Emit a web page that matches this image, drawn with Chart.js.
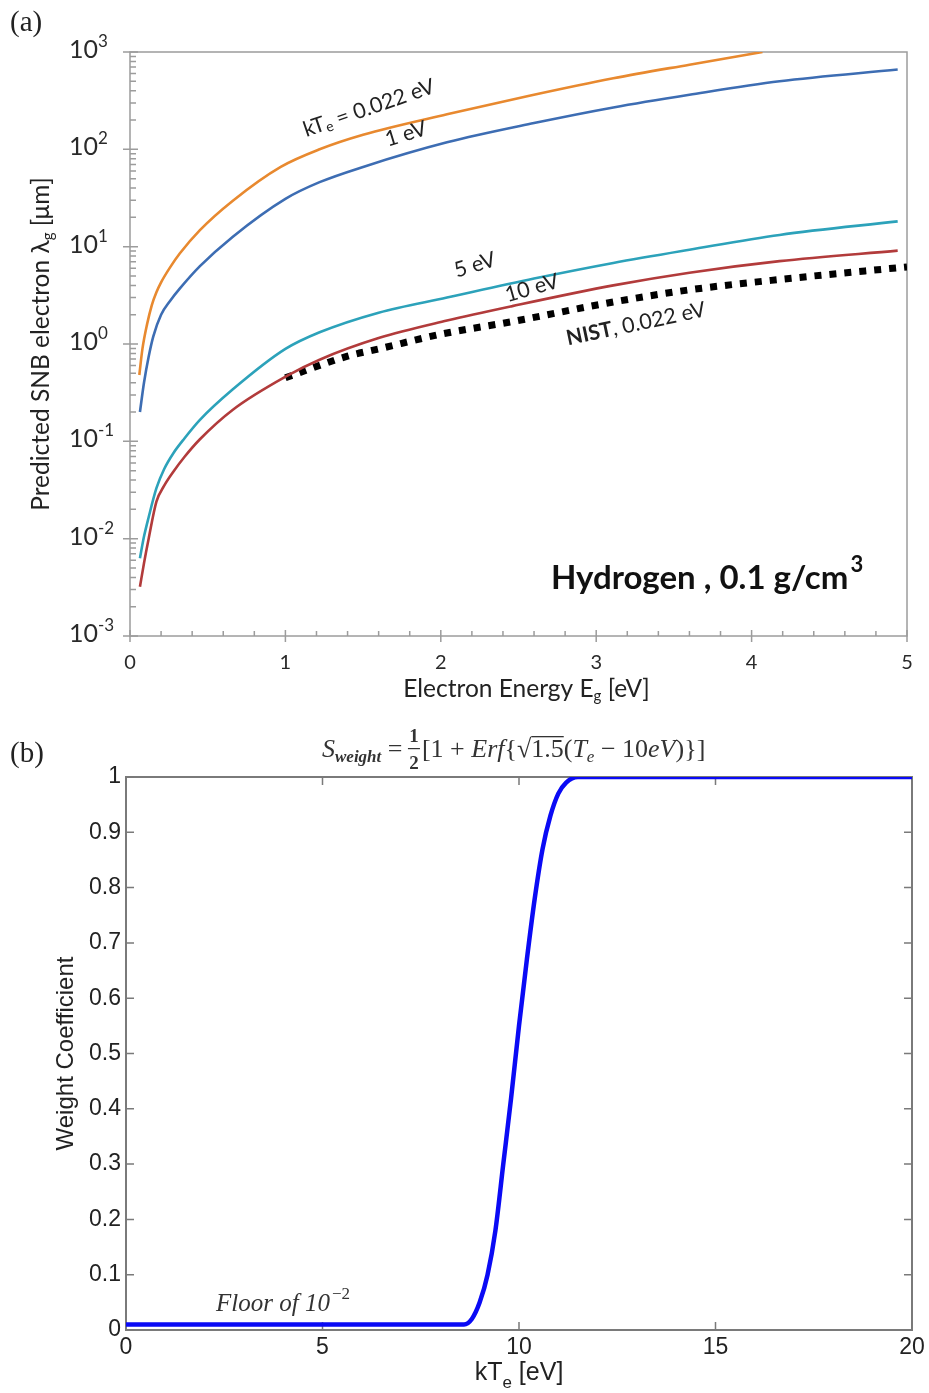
<!DOCTYPE html>
<html><head><meta charset="utf-8">
<script src="https://cdn.jsdelivr.net/npm/chart.js@4.4.0/dist/chart.umd.min.js"></script>
<style>
html,body{margin:0;padding:0;background:#fff;}
#wrap{position:relative;width:929px;height:1393px;background:#fff;overflow:hidden;}
canvas{position:absolute;left:0;}
</style></head><body>
<div id="wrap">
<canvas id="c1" width="929" height="710" style="top:0;width:929px;height:710px"></canvas>
<canvas id="c2" width="929" height="683" style="top:710px;width:929px;height:683px"></canvas>
</div>
<script>
// ---------- Panel (a): predicted SNB electron mean free path vs electron energy ----------
const e_kT0022 = [0.06, 0.08, 0.11, 0.14, 0.17, 0.2, 0.26, 0.32, 0.45, 0.66, 0.97, 1.22, 1.5, 2.04, 2.57, 3.11, 3.6, 4.07];
const lam_kT0022 = [0.48, 0.89, 1.6, 2.5, 3.4, 4.3, 6.2, 8.5, 14.8, 29.5, 66, 100, 141, 229, 355, 537, 741, 1000];

const e_kT1 = [0.064, 0.09, 0.12, 0.15, 0.2, 0.26, 0.32, 0.45, 0.66, 1.0, 1.22, 1.5, 2.04, 2.6, 3.11, 3.6, 4.18, 4.94];
const lam_kT1 = [0.2, 0.4, 0.74, 1.2, 2.0, 2.8, 3.7, 6.3, 12.6, 31, 46, 66, 118, 186, 269, 363, 500, 660];

const e_kT5 = [0.064, 0.09, 0.12, 0.17, 0.22, 0.28, 0.35, 0.45, 0.66, 1.0, 1.22, 1.6, 2.04, 2.6, 3.11, 3.6, 4.18, 4.94];
const lam_kT5 = [0.0063, 0.0105, 0.0166, 0.033, 0.052, 0.076, 0.107, 0.166, 0.34, 0.89, 1.32, 2.1, 3.0, 4.7, 6.8, 9.3, 13.2, 18.2];

const e_kT10 = [0.064, 0.09, 0.12, 0.17, 0.22, 0.28, 0.35, 0.45, 0.66, 1.01, 1.22, 1.6, 2.04, 2.46, 3.11, 3.6, 4.18, 4.94];
const lam_kT10 = [0.0032, 0.0056, 0.01, 0.024, 0.035, 0.049, 0.069, 0.105, 0.21, 0.47, 0.69, 1.15, 1.74, 2.45, 4.0, 5.4, 7.1, 9.1];

const e_nist = [1.0, 1.4, 1.6, 2.0, 2.46, 3.11, 3.6, 4.18, 5.0];
const lam_nist = [0.45, 0.75, 0.89, 1.26, 1.7, 2.7, 3.6, 4.6, 6.2];

const xTicksA = [0, 1, 2, 3, 4, 5];
const yExpA = [-3, -2, -1, 0, 1, 2, 3];

// ---------- Panel (b): weight coefficient vs kTe ----------
const kTe = [0, 8.6, 8.8, 9.0, 9.2, 9.4, 9.6, 9.8, 10.0, 10.2, 10.4, 10.6, 10.8, 11.0, 11.2, 11.5, 20];
const weight = [0.01, 0.01, 0.02, 0.05, 0.1, 0.18, 0.3, 0.42, 0.55, 0.67, 0.78, 0.87, 0.93, 0.97, 0.99, 1.0, 1.0];
const xTicksB = [0, 5, 10, 15, 20];

const SANS = 'Lato, "Open Sans", sans-serif';
const SERIF = '"Liberation Serif", "DejaVu Serif", serif';
const ARIAL = '"Liberation Sans", Arial, sans-serif';

function pts(xs, ys) { return xs.map((x, i) => ({ x: x, y: ys[i] })); }

function rich(ctx, parts, x, y, align) {
  let w = 0;
  parts.forEach(p => { ctx.font = p.f; p.w = ctx.measureText(p.t).width; w += p.w; });
  let cx = align === 'center' ? x - w / 2 : (align === 'right' ? x - w : x);
  ctx.textAlign = 'left';
  parts.forEach(p => { ctx.font = p.f; ctx.fillText(p.t, cx, y + (p.dy || 0)); cx += p.w; });
  return cx;
}

function rotLabel(ctx, parts, cx, cy, deg) {
  ctx.save();
  ctx.translate(cx, cy);
  ctx.rotate(deg * Math.PI / 180);
  ctx.textBaseline = 'middle';
  rich(ctx, parts, 0, 0, 'center');
  ctx.restore();
}

const decorA = {
  id: 'decorA',
  beforeDatasetsDraw(chart) {
    const { ctx, chartArea: a, scales: { x, y } } = chart;
    ctx.save();
    ctx.strokeStyle = '#9c9c9c';
    ctx.lineWidth = 1.5;
    ctx.strokeRect(a.left, a.top, a.right - a.left, a.bottom - a.top);
    ctx.beginPath();
    yExpA.forEach(k => {
      const py = y.getPixelForValue(Math.pow(10, k));
      ctx.moveTo(a.left - 7, py); ctx.lineTo(a.left + 8, py);
      if (k < 3) for (let m = 2; m <= 9; m++) {
        const q = y.getPixelForValue(m * Math.pow(10, k));
        ctx.moveTo(a.left, q); ctx.lineTo(a.left + 6, q);
      }
    });
    for (let i = 0; i <= 25; i++) {
      const px = x.getPixelForValue(i * 0.2);
      if (i % 5 === 0) { ctx.moveTo(px, a.bottom - 6); ctx.lineTo(px, a.bottom + 6); }
      else { ctx.moveTo(px, a.bottom - 5); ctx.lineTo(px, a.bottom); }
    }
    ctx.stroke();
    ctx.restore();
  },
  afterDraw(chart) {
    const { ctx, chartArea: a, scales: { x, y } } = chart;
    ctx.save();
    ctx.fillStyle = '#2a2a2a';
    ctx.textBaseline = 'alphabetic';
    // y tick labels 10^k
    yExpA.forEach(k => {
      const py = y.getPixelForValue(Math.pow(10, k));
      ctx.font = '25px ' + SANS;
      ctx.textAlign = 'left';
      ctx.fillText('10', 69, py + 6);
      const w = ctx.measureText('10').width;
      ctx.font = '17px ' + SANS;
      ctx.fillText(String(k), 69 + w, py - 5);
    });
    // axis titles
    ctx.fillStyle = '#222';
    ctx.save();
    ctx.translate(49, (a.top + a.bottom) / 2);
    ctx.rotate(-Math.PI / 2);
    rich(ctx, [
      { t: 'Predicted SNB electron λ', f: '24.5px ' + SANS },
      { t: 'g', f: '15px ' + SANS, dy: 4 },
      { t: ' [μm]', f: '24.5px ' + SANS }
    ], 0, 0, 'center');
    ctx.restore();
    rich(ctx, [
      { t: 'Electron Energy E', f: '24.5px ' + SANS },
      { t: 'g', f: '15px ' + SANS, dy: 4 },
      { t: ' [eV]', f: '24.5px ' + SANS }
    ], (a.left + a.right) / 2 + 8, 697, 'center');
    // curve labels
    const f21 = '21.5px ' + SANS;
    rotLabel(ctx, [{ t: 'kT', f: f21 }, { t: 'e', f: '14px ' + SANS, dy: 5 }, { t: ' = 0.022 eV', f: f21 }], 369, 108, -19);
    rotLabel(ctx, [{ t: '1 eV', f: f21 }], 406, 134, -17);
    rotLabel(ctx, [{ t: '5 eV', f: f21 }], 475, 265, -17);
    rotLabel(ctx, [{ t: '10 eV', f: f21 }], 532, 288, -16);
    rotLabel(ctx, [{ t: 'NIST', f: 'bold 21px ' + SANS }, { t: ', 0.022 eV', f: f21 }], 636, 324, -12);
    // material annotation
    ctx.fillStyle = '#111';
    const end = rich(ctx, [{ t: 'Hydrogen , 0.1 g/cm', f: 'bold 33px ' + SANS }], 551, 589, 'left');
    ctx.font = 'bold 22px ' + SANS;
    ctx.fillText('3', end + 2, 572);
    // panel letter
    ctx.font = '29px ' + SERIF;
    ctx.fillStyle = '#222';
    ctx.fillText('(a)', 10, 31);
    ctx.restore();
  }
};

const lineDs = (label, xs, ys, color) => ({
  label: label, data: pts(xs, ys), borderColor: color, backgroundColor: color,
  borderWidth: 2.6, pointRadius: 0, cubicInterpolationMode: 'monotone', fill: false
});

new Chart(document.getElementById('c1'), {
  type: 'line',
  data: {
    datasets: [
      lineDs('kTe = 0.022 eV', e_kT0022, lam_kT0022, '#E8892F'),
      lineDs('1 eV', e_kT1, lam_kT1, '#3D6DB3'),
      lineDs('5 eV', e_kT5, lam_kT5, '#2CA2BA'),
      lineDs('10 eV', e_kT10, lam_kT10, '#B23B3B'),
      {
        label: 'NIST, 0.022 eV', data: pts(e_nist, lam_nist), borderColor: '#000', borderWidth: 7,
        borderDash: [7, 8], borderCapStyle: 'butt', pointRadius: 0, cubicInterpolationMode: 'monotone', fill: false
      }
    ]
  },
  options: {
    responsive: false, animation: false, devicePixelRatio: 1,
    layout: { padding: { top: 52, right: 22, left: 0, bottom: 0 } },
    plugins: { legend: { display: false }, tooltip: { enabled: false } },
    scales: {
      x: {
        type: 'linear', min: 0, max: 5,
        afterBuildTicks(s) { s.ticks = xTicksA.map(v => ({ value: v })); },
        ticks: { font: { family: SANS, size: 20 }, color: '#2a2a2a', padding: 15, maxRotation: 0, autoSkip: false },
        grid: { display: false, drawTicks: false }, border: { display: false },
        afterFit(s) { s.height = 74; }
      },
      y: {
        type: 'logarithmic', min: 1e-3, max: 1e3,
        ticks: { display: false },
        grid: { display: false, drawTicks: false }, border: { display: false },
        afterFit(s) { s.width = 130; }
      }
    }
  },
  plugins: [decorA]
});

// ---------- Panel (b) ----------
const decorB = {
  id: 'decorB',
  beforeDatasetsDraw(chart) {
    const { ctx, chartArea: a, scales: { x, y } } = chart;
    ctx.save();
    ctx.strokeStyle = '#7a7a7a';
    ctx.lineWidth = 2;
    ctx.strokeRect(a.left, a.top, a.right - a.left, a.bottom - a.top);
    ctx.lineWidth = 1.5;
    ctx.beginPath();
    xTicksB.forEach(v => {
      const px = x.getPixelForValue(v);
      ctx.moveTo(px, a.bottom); ctx.lineTo(px, a.bottom - 8);
      ctx.moveTo(px, a.top); ctx.lineTo(px, a.top + 8);
    });
    for (let i = 0; i <= 10; i++) {
      const py = y.getPixelForValue(i / 10);
      ctx.moveTo(a.left, py); ctx.lineTo(a.left + 8, py);
      ctx.moveTo(a.right, py); ctx.lineTo(a.right - 8, py);
    }
    ctx.stroke();
    ctx.restore();
  },
  afterDraw(chart) {
    const { ctx, chartArea: a } = chart;
    ctx.save();
    ctx.fillStyle = '#222';
    ctx.textBaseline = 'alphabetic';
    // x title
    rich(ctx, [
      { t: 'kT', f: '25px ' + ARIAL },
      { t: 'e', f: '17px ' + ARIAL, dy: 8 },
      { t: ' [eV]', f: '25px ' + ARIAL }
    ], (a.left + a.right) / 2, 670, 'center');
    // y title
    ctx.save();
    ctx.translate(66, (a.top + a.bottom) / 2);
    ctx.rotate(-Math.PI / 2);
    ctx.textBaseline = 'middle';
    rich(ctx, [{ t: 'Weight Coefficient', f: '24px ' + ARIAL }], 0, 0, 'center');
    ctx.restore();
    // formula title
    ctx.fillStyle = '#333';
    const it = 'italic 26px ' + SERIF, rm = '26px ' + SERIF;
    let cx = rich(ctx, [{ t: 'S', f: it }, { t: 'weight', f: 'italic bold 17px ' + SERIF, dy: 5 }, { t: ' = ', f: rm }], 322, 47, 'left');
    ctx.font = 'bold 19px ' + SERIF;
    ctx.textAlign = 'center';
    const fx = cx + 5;
    ctx.fillText('1', fx, 32);
    ctx.fillText('2', fx, 59);
    ctx.fillRect(fx - 6, 38, 12, 1.2);
    ctx.textAlign = 'left';
    cx = fx + 8;
    cx = rich(ctx, [{ t: '[1 + ', f: rm }, { t: 'Erf', f: it }, { t: '{√', f: rm }], cx, 47, 'left');
    ctx.font = rm;
    const w15 = ctx.measureText('1.5').width;
    ctx.fillRect(cx, 26, w15, 1.3);
    cx = rich(ctx, [{ t: '1.5(', f: rm }, { t: 'T', f: it }, { t: 'e', f: 'italic 17px ' + SERIF, dy: 5 },
      { t: ' − 10', f: rm }, { t: 'eV', f: it }, { t: ')}]', f: rm }], cx, 47, 'left');
    // floor annotation
    ctx.fillStyle = '#333';
    const e2 = rich(ctx, [{ t: 'Floor of 10', f: 'italic 25px ' + SERIF }], 216, 601, 'left');
    ctx.font = '17px ' + SERIF;
    ctx.fillText('−2', e2 + 2, 589);
    // panel letter
    ctx.fillStyle = '#222';
    ctx.font = '29px ' + SERIF;
    ctx.fillText('(b)', 10, 52);
    ctx.restore();
  }
};

new Chart(document.getElementById('c2'), {
  type: 'line',
  data: {
    datasets: [{
      label: 'Weight Coefficient', data: pts(kTe, weight), borderColor: '#0A0AF5', backgroundColor: '#0A0AF5',
      borderWidth: 4.5, pointRadius: 0, cubicInterpolationMode: 'monotone', fill: false
    }]
  },
  options: {
    responsive: false, animation: false, devicePixelRatio: 1,
    layout: { padding: { top: 67, right: 17, left: 0, bottom: 0 } },
    plugins: { legend: { display: false }, tooltip: { enabled: false } },
    scales: {
      x: {
        type: 'linear', min: 0, max: 20,
        afterBuildTicks(s) { s.ticks = xTicksB.map(v => ({ value: v })); },
        ticks: { font: { family: ARIAL, size: 23 }, color: '#222', padding: 4, maxRotation: 0, autoSkip: false },
        grid: { display: false, drawTicks: false }, border: { display: false },
        afterFit(s) { s.height = 63; }
      },
      y: {
        type: 'linear', min: 0, max: 1,
        ticks: {
          stepSize: 0.1, font: { family: ARIAL, size: 23 }, color: '#222', padding: 5,
          callback: v => String(Math.round(v * 10) / 10)
        },
        grid: { display: false, drawTicks: false }, border: { display: false },
        afterFit(s) { s.width = 126; }
      }
    }
  },
  plugins: [decorB]
});
</script>
</body></html>
